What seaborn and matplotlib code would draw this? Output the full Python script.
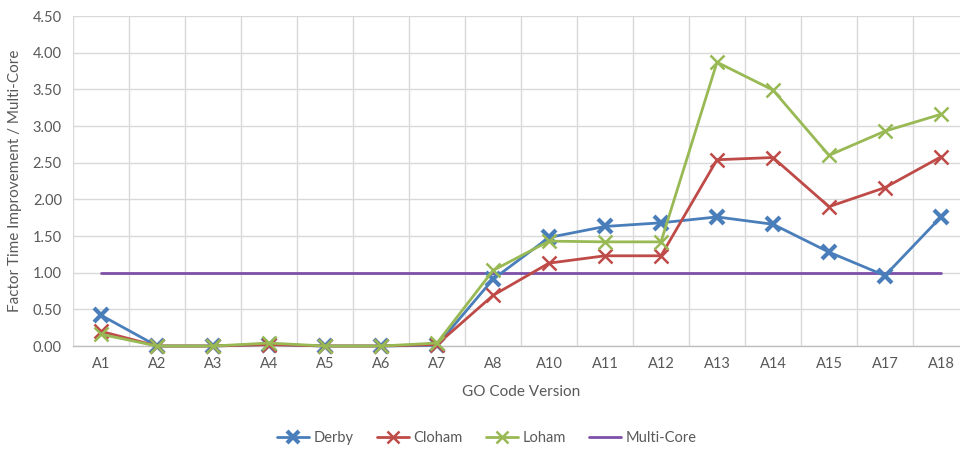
import matplotlib
matplotlib.use("Agg")
import matplotlib.pyplot as plt
import seaborn as sns
import numpy as np
from matplotlib.ticker import MultipleLocator, FixedLocator, FormatStrFormatter

versions = ["A1", "A2", "A3", "A4", "A5", "A6", "A7", "A8",
            "A10", "A11", "A12", "A13", "A14", "A15", "A17", "A18"]
derby = [0.42, 0.00, 0.00, 0.02, 0.00, 0.00, 0.01, 0.91,
         1.48, 1.63, 1.68, 1.76, 1.66, 1.28, 0.96, 1.76]
cloham = [0.20, 0.00, 0.00, 0.02, 0.00, 0.00, 0.02, 0.69,
          1.13, 1.23, 1.23, 2.54, 2.57, 1.90, 2.16, 2.58]
loham = [0.16, 0.00, 0.00, 0.04, 0.00, 0.00, 0.04, 1.03,
         1.43, 1.42, 1.42, 3.87, 3.49, 2.60, 2.93, 3.16]
multi_core = [1.00] * len(versions)

sns.set_theme(style="white")
plt.rcParams["font.family"] = ["Lato", "DejaVu Sans"]
text_color = "#595959"

fig = plt.figure(figsize=(9.6, 4.5), dpi=100)
ax = fig.add_axes([73 / 960, 104 / 450, 896 / 960, 330 / 450])

pos = np.arange(len(versions))
series = [
    ("Derby", derby, "#4A7EBB", 10, 3.0),
    ("Cloham", cloham, "#BE4B48", 10, 1.8),
    ("Loham", loham, "#98B954", 10, 1.8),
]
for name, vals, col, ms, mew in series:
    sns.lineplot(x=pos, y=vals, ax=ax, color=col, linewidth=2.0, marker="x",
                 markersize=ms, markeredgewidth=mew, markeredgecolor=col,
                 label=name, sort=False, clip_on=False, zorder=3)
sns.lineplot(x=pos, y=multi_core, ax=ax, color="#7D4FA8", linewidth=2.0,
             label="Multi-Core", sort=False, zorder=2)

ax.set_xlim(-0.5, len(versions) - 0.5)
ax.set_ylim(0, 4.5)
ax.xaxis.set_major_locator(FixedLocator(pos))
ax.set_xticklabels(versions)
ax.xaxis.set_minor_locator(FixedLocator(np.arange(-0.5, len(versions), 1.0)))
ax.yaxis.set_major_locator(MultipleLocator(0.5))
ax.yaxis.set_major_formatter(FormatStrFormatter("%.2f"))

ax.grid(False)
ax.grid(which="minor", axis="x", color="#D9D9D9", linewidth=1.0)
ax.grid(which="major", axis="y", color="#D9D9D9", linewidth=1.0)
ax.set_axisbelow(True)
ax.tick_params(which="both", length=0, colors=text_color, labelsize=10.5)
ax.tick_params(axis="x", pad=8)
ax.tick_params(axis="y", pad=8)

for side in ["top", "right", "left"]:
    ax.spines[side].set_visible(False)
ax.spines["bottom"].set_color("#BFBFBF")
ax.spines["bottom"].set_linewidth(1.0)

ax.set_xlabel("GO Code Version", color=text_color, fontsize=11, labelpad=10)
ax.set_ylabel("Factor Time Improvement / Multi-Core", color=text_color,
              fontsize=11, labelpad=8)

handles, labels = ax.get_legend_handles_labels()
leg = ax.legend(handles, labels, loc="center", bbox_to_anchor=(487 / 960, 12 / 450),
                bbox_transform=fig.transFigure, ncol=4, frameon=False,
                fontsize=10.5, labelcolor=text_color, handlelength=2.2,
                columnspacing=1.6, handletextpad=0.3, markerscale=0.8)

fig.savefig("out.png", dpi=100)
